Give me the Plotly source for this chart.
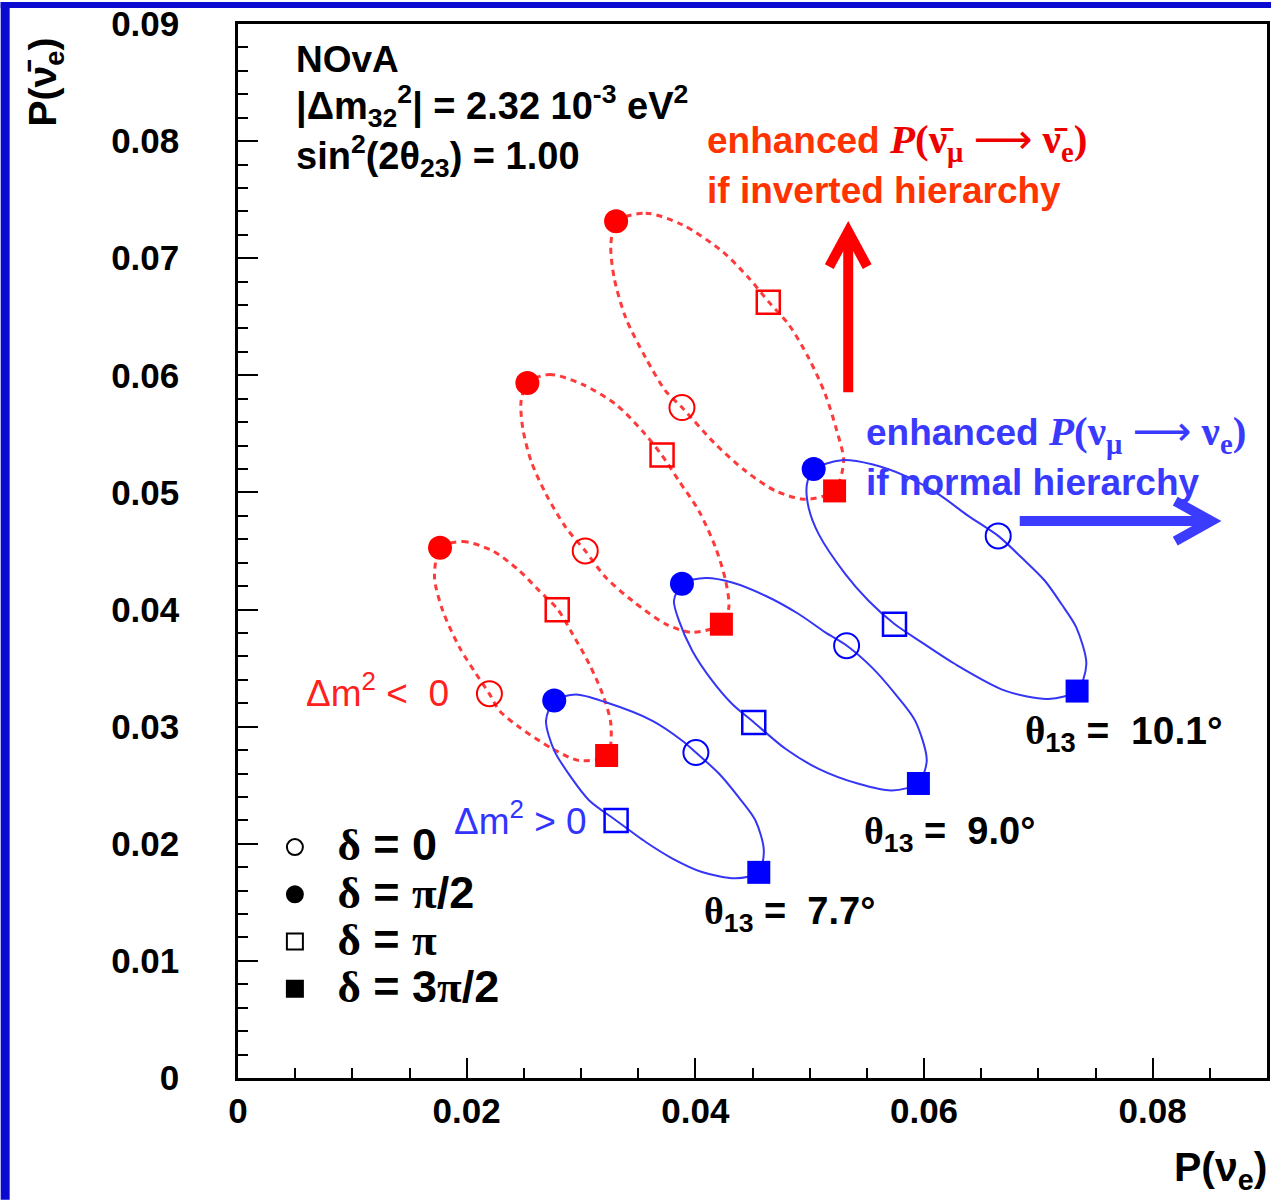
import plotly.graph_objects as go

# ---------------- axis ticks ----------------
x_tick_vals = [0, 0.02, 0.04, 0.06, 0.08]
x_tick_text = ["0", "0.02", "0.04", "0.06", "0.08"]
y_tick_vals = [0, 0.01, 0.02, 0.03, 0.04, 0.05, 0.06, 0.07, 0.08, 0.09]
y_tick_text = ["0", "0.01", "0.02", "0.03", "0.04", "0.05", "0.06", "0.07", "0.08", "0.09"]

theta13_labels = ["7.7°", "9.0°", "10.1°"]

# ---------------- oscillation probabilities at the four delta values ----------------
# one entry per theta13 value (7.7, 9.0, 10.1 degrees); x = P(nu_e), y = P(nubar_e)
# normal hierarchy (dm^2 > 0)
nh_d0_x = [0.04005, 0.05323, 0.06649]
nh_d0_y = [0.02779, 0.03691, 0.04629]
nh_dhalfpi_x = [0.02766, 0.03883, 0.05035]
nh_dhalfpi_y = [0.03223, 0.04220, 0.05200]
nh_dpi_x = [0.03307, 0.04511, 0.05742]
nh_dpi_y = [0.02199, 0.03035, 0.03875]
nh_d3halfpi_x = [0.04555, 0.05951, 0.07339]
nh_d3halfpi_y = [0.01756, 0.02515, 0.03304]
# inverted hierarchy (dm^2 < 0)
ih_d0_x = [0.02199, 0.03037, 0.03883]
ih_d0_y = [0.03282, 0.04501, 0.05725]
ih_dhalfpi_x = [0.01767, 0.02531, 0.03307]
ih_dhalfpi_y = [0.04527, 0.05934, 0.07315]
ih_dpi_x = [0.02792, 0.03709, 0.04638]
ih_dpi_y = [0.03998, 0.05320, 0.06624]
ih_d3halfpi_x = [0.03224, 0.04228, 0.05218]
ih_d3halfpi_y = [0.02754, 0.03875, 0.05013]

# ---------------- full delta sweeps (closed loops) ----------------
nh_77_x = [0.02766, 0.02956, 0.03217, 0.03621, 0.03883, 0.04005, 0.04206, 0.04380, 0.04526, 0.04599, 0.04555,
           0.04352, 0.04058, 0.03796, 0.03566, 0.03307, 0.03072, 0.02912, 0.02766, 0.02694, 0.02766]
nh_77_y = [0.03223, 0.03274, 0.03208, 0.03052, 0.02882, 0.02779, 0.02600, 0.02396, 0.02199, 0.01944, 0.01756,
           0.01705, 0.01759, 0.01876, 0.02015, 0.02199, 0.02370, 0.02569, 0.02796, 0.03052, 0.03223]
nh_90_x = [0.03886, 0.04090, 0.04322, 0.04613, 0.04904, 0.05137, 0.05326, 0.05544, 0.05748, 0.05922, 0.06024, 0.05951,
           0.05718, 0.05428, 0.05079, 0.04788, 0.04511, 0.04322, 0.04147, 0.03973, 0.03857, 0.03813, 0.03886]
nh_90_y = [0.04223, 0.04269, 0.04231, 0.04118, 0.03962, 0.03805, 0.03691, 0.03506, 0.03280, 0.03052, 0.02711, 0.02517,
           0.02455, 0.02512, 0.02640, 0.02811, 0.03038, 0.03194, 0.03393, 0.03649, 0.03905, 0.04075, 0.04223]
nh_101_x = [0.05035, 0.05282, 0.05544, 0.05835, 0.06126, 0.06387, 0.06649, 0.06853, 0.07057, 0.07202, 0.07332, 0.07420,
            0.07341, 0.07086, 0.06708, 0.06271, 0.05980, 0.05742, 0.05515, 0.05312, 0.05079, 0.04991, 0.04976, 0.05035]
nh_101_y = [0.05198, 0.05275, 0.05240, 0.05141, 0.04985, 0.04800, 0.04629, 0.04444, 0.04246, 0.04047, 0.03847, 0.03535,
            0.03308, 0.03237, 0.03308, 0.03535, 0.03720, 0.03876, 0.04075, 0.04303, 0.04644, 0.04870, 0.05070, 0.05198]
ih_77_x = [0.01769, 0.01966, 0.02228, 0.02461, 0.02635, 0.02795, 0.02926, 0.03072, 0.03188, 0.03261, 0.03231,
           0.02984, 0.02751, 0.02461, 0.02286, 0.02199, 0.02083, 0.01937, 0.01791, 0.01719, 0.01769]
ih_77_y = [0.04529, 0.04581, 0.04501, 0.04331, 0.04160, 0.04004, 0.03791, 0.03535, 0.03280, 0.03024, 0.02754,
           0.02711, 0.02811, 0.02995, 0.03137, 0.03280, 0.03450, 0.03677, 0.03990, 0.04274, 0.04529]
ih_90_x = [0.02533, 0.02723, 0.03013, 0.03305, 0.03537, 0.03706, 0.03857, 0.04031, 0.04177, 0.04265, 0.04293, 0.04229,
           0.03973, 0.03741, 0.03449, 0.03217, 0.03037, 0.02868, 0.02694, 0.02563, 0.02490, 0.02476, 0.02533]
ih_90_y = [0.05936, 0.06008, 0.05922, 0.05752, 0.05524, 0.05320, 0.05098, 0.04842, 0.04529, 0.04246, 0.04018, 0.03876,
           0.03805, 0.03876, 0.04075, 0.04274, 0.04501, 0.04700, 0.04985, 0.05269, 0.05552, 0.05780, 0.05936]
ih_101_x = [0.03310, 0.03566, 0.03886, 0.04235, 0.04468, 0.04642, 0.04817, 0.04991, 0.05137, 0.05238, 0.05297, 0.05218,
            0.04963, 0.04702, 0.04439, 0.04177, 0.03886, 0.03741, 0.03566, 0.03392, 0.03290, 0.03261, 0.03310]
ih_101_y = [0.07315, 0.07385, 0.07286, 0.07059, 0.06831, 0.06627, 0.06434, 0.06149, 0.05837, 0.05524, 0.05269, 0.05013,
            0.04942, 0.05013, 0.05183, 0.05411, 0.05723, 0.05865, 0.06149, 0.06490, 0.06831, 0.07116, 0.07315]

# ---------------- page geometry ----------------
W, H = 1274, 1200
ML, MR, MT, MB = 238, 4, 22, 122


def px(xp):
    """canvas x pixel -> paper coordinate"""
    return (xp - ML) / (W - ML - MR)


def py(yp):
    """canvas y pixel -> paper coordinate"""
    return (H - MB - yp) / (H - MT - MB)


SANS = "Liberation Sans"
SERIF = "Liberation Serif"
BLUE_LINE = "#3535f5"
BLUE_MK = "#0000ff"
RED_LINE = "#ff3a3a"
RED_MK = "#ff0000"

fig = go.Figure()

# loops
for cx, cy in [(ih_77_x, ih_77_y), (ih_90_x, ih_90_y), (ih_101_x, ih_101_y)]:
    fig.add_trace(go.Scatter(x=cx, y=cy, mode="lines", showlegend=False, hoverinfo="skip",
                             line=dict(color=RED_LINE, width=3, dash="6px,5px", shape="spline", smoothing=0.8)))
for cx, cy in [(nh_77_x, nh_77_y), (nh_90_x, nh_90_y), (nh_101_x, nh_101_y)]:
    fig.add_trace(go.Scatter(x=cx, y=cy, mode="lines", showlegend=False, hoverinfo="skip",
                             line=dict(color=BLUE_LINE, width=2, shape="spline", smoothing=0.8)))


def add_markers(xs, ys, symbol, color, size, lw=0):
    fig.add_trace(go.Scatter(x=xs, y=ys, mode="markers", showlegend=False,
                             marker=dict(symbol=symbol, size=size, color=color,
                                         line=dict(color=color, width=lw))))


# inverted hierarchy markers
add_markers(ih_d0_x, ih_d0_y, "circle-open", RED_MK, 25, 2)
add_markers(ih_dhalfpi_x, ih_dhalfpi_y, "circle", RED_MK, 24)
add_markers(ih_dpi_x, ih_dpi_y, "square-open", RED_MK, 23, 2.5)
add_markers(ih_d3halfpi_x, ih_d3halfpi_y, "square", RED_MK, 23)
# normal hierarchy markers
add_markers(nh_d0_x, nh_d0_y, "circle-open", BLUE_MK, 25, 2)
add_markers(nh_dhalfpi_x, nh_dhalfpi_y, "circle", BLUE_MK, 24)
add_markers(nh_dpi_x, nh_dpi_y, "square-open", BLUE_MK, 23, 2.5)
add_markers(nh_d3halfpi_x, nh_d3halfpi_y, "square", BLUE_MK, 23)

# legend keys for the delta values
d = f"<span style='font-family:{SERIF}'>δ</span>"
p = f"<span style='font-family:{SERIF}'>π</span>"
legend_names = [f"{d} = 0", f"{d} = {p}/2", f"{d} = {p}", f"{d} = 3{p}/2"]
legend_symbols = ["circle-open", "circle", "square-open", "square"]
for name, sym in zip(legend_names, legend_symbols):
    fig.add_trace(go.Scatter(x=[None], y=[None], mode="markers",
                             name=f"<span style='font-size:45px'>\u2002{name}</span>",
                             marker=dict(symbol=sym, size=18, color="black",
                                         line=dict(color="black", width=2))))

annotations = []


def note(text, x, y, size, color="black", xanchor="left", yanchor="middle", weight="bold",
         family=SANS, angle=0):
    annotations.append(dict(text=text, x=px(x), y=py(y), xref="paper", yref="paper",
                            xanchor=xanchor, yanchor=yanchor, showarrow=False, textangle=angle,
                            font=dict(family=family, size=size, color=color, weight=weight)))


# header block
note("NOvA", 294, 58, 37)
note("|Δm<sub>32</sub><sup>2</sup>| = 2.32 10<sup>-3</sup> eV<sup>2</sup>", 294, 104, 38)
note("sin<sup>2</sup>(2θ<sub>23</sub>) = 1.00", 294, 154, 38)

# hierarchy statements
mbar = "\u0304"
arrow = "<span style='font-family:DejaVu Sans;font-weight:normal'>\u27f6</span>"
red_math = (f"<span style='font-family:{SERIF};font-size:41px;color:#ee0000'><i>P</i>(ν{mbar}<sub>μ</sub> "
            f"{arrow} ν{mbar}<sub>e</sub>)</span>")
note("enhanced " + red_math, 706, 140, 37, color="#ff3300")
note("if inverted hierarchy", 706, 189, 37, color="#ff3300")
blue_math = (f"<span style='font-family:{SERIF};font-size:41px'><i>P</i>(ν<sub>μ</sub> {arrow} "
             f"ν<sub>e</sub>)</span>")
note("enhanced " + blue_math, 866, 432, 37, color="#3a3aff")
note("if normal hierarchy", 866, 481, 37, color="#3a3aff")

# mass ordering tags
note("Δm<sup>2</sup> <  0", 304, 690, 37, color="#ff2020", weight="normal")
note("Δm<sup>2</sup> > 0", 453, 818, 37, color="#3333ff", weight="normal")

# theta13 tags
th = f"<span style='font-family:{SERIF}'>θ</span><sub>13</sub> =  "
note(th + theta13_labels[0], 703, 914, 38)
note(th + theta13_labels[1], 864, 834, 38)
note(th + theta13_labels[2], 1025, 733, 39)

# axis titles
note(f"P(ν{mbar}<sub>e</sub>)", 45, 80, 39, angle=-90, xanchor="center")
note("P(ν<sub>e</sub>)", 1272, 1170, 41, xanchor="right")

shapes = [
    # slide border strips
    dict(type="rect", xref="paper", yref="paper", x0=px(0), x1=px(9), y0=py(1200), y1=py(0),
         fillcolor="#0a0ad0", line=dict(width=0), layer="above"),
    dict(type="rect", xref="paper", yref="paper", x0=px(0), x1=px(1274), y0=py(6), y1=py(0),
         fillcolor="#0a0ad0", line=dict(width=0), layer="above"),
    # red up arrow
    dict(type="line", xref="paper", yref="paper", x0=px(850), x1=px(850), y0=py(391), y1=py(232),
         line=dict(color="#ff0000", width=10)),
    dict(type="path", xref="paper", yref="paper",
         path=f"M {px(831)},{py(265)} L {px(850)},{py(230)} L {px(869)},{py(265)}",
         line=dict(color="#ff0000", width=10)),
    # blue right arrow
    dict(type="line", xref="paper", yref="paper", x0=px(1022), x1=px(1212), y0=py(520), y1=py(520),
         line=dict(color="#3c3cff", width=10)),
    dict(type="path", xref="paper", yref="paper",
         path=f"M {px(1178)},{py(500)} L {px(1214)},{py(520)} L {px(1178)},{py(540)}",
         line=dict(color="#3c3cff", width=10)),
]

axis_common = dict(showgrid=False, zeroline=False, showline=True, linecolor="black", linewidth=2.5,
                   mirror=True, ticks="inside", ticklen=20, tickwidth=1.5, tickcolor="black",
                   tickfont=dict(family=SANS, size=35, color="black", weight="bold"))

fig.update_layout(
    width=W, height=H,
    margin=dict(l=ML, r=MR, t=MT, b=MB),
    paper_bgcolor="white", plot_bgcolor="white",
    xaxis=dict(range=[0, 0.09], tickmode="array", tickvals=x_tick_vals, ticktext=x_tick_text,
               ticklabelstandoff=0,
               minor=dict(ticks="inside", ticklen=10, tickwidth=1.5, tickcolor="black", dtick=0.005, tick0=0),
               **axis_common),
    yaxis=dict(range=[0, 0.09], tickmode="array", tickvals=y_tick_vals, ticktext=y_tick_text,
               ticklabelstandoff=49,
               minor=dict(ticks="inside", ticklen=10, tickwidth=1.5, tickcolor="black", dtick=0.002, tick0=0),
               **axis_common),
    showlegend=True,
    legend=dict(x=px(275), y=py(818), xanchor="left", yanchor="top", bgcolor="rgba(0,0,0,0)",
                borderwidth=0, tracegroupgap=0,
                font=dict(family=SANS, size=34, color="black", weight="bold")),
    annotations=annotations,
    shapes=shapes,
)

fig.write_html("out.html")
